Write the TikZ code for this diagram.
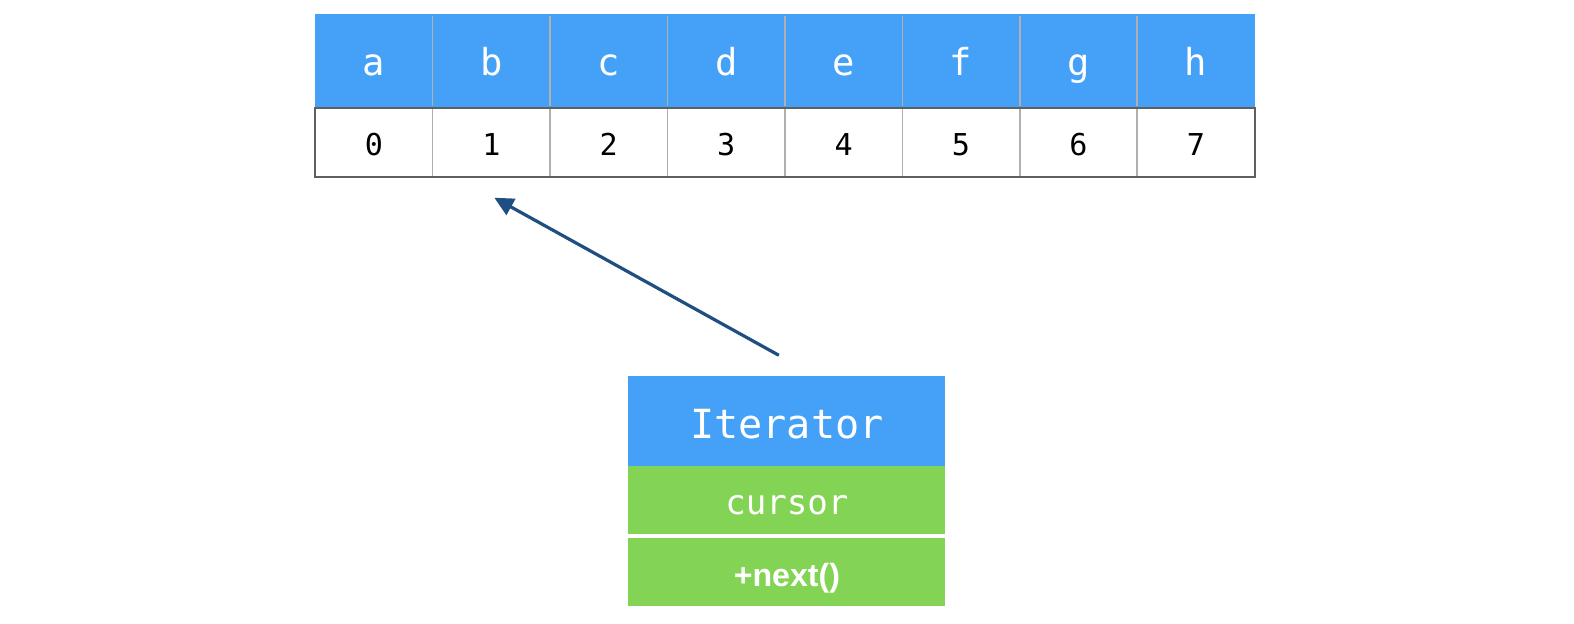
\documentclass[tikz,border=0pt]{standalone}
\usepackage{fontspec}
\setmonofont{DejaVu Sans Mono}
\newfontfamily\nextfont{Liberation Sans}
\usetikzlibrary{arrows.meta, positioning}
\definecolor{cellblue}{HTML}{45A1F8}
\definecolor{fieldgreen}{HTML}{83D454}
\definecolor{arrowblue}{HTML}{1F4E80}
\definecolor{sepgray}{HTML}{B0B0B0}
\definecolor{bordergray}{HTML}{5F5F5F}

\begin{document}
\begin{tikzpicture}[x=1bp,y=-1bp,inner sep=0pt,outer sep=0pt]
  \tikzstyle{headcell}=[fill=cellblue,text=white,minimum width=117bp,minimum height=94bp,
    text height=28bp,text depth=0pt,font=\ttfamily\fontsize{37bp}{40bp}\selectfont]
  \tikzstyle{idxcell}=[fill=white,draw=sepgray,line width=1.5bp,minimum width=117bp,minimum height=68bp,
    text height=26bp,text depth=0pt,font=\ttfamily\fontsize{30bp}{34bp}\selectfont]
  \tikzstyle{classbox}=[minimum width=316bp,text=white,text depth=0pt]

  \useasboundingbox (0,0) rectangle (1568.2,621.7);

  % the array
  \foreach \letter [count=\i from 0] in {a,b,c,d,e,f,g,h} {
    \node[headcell] (h\i) at ({372.5+117*\i}, 61) {\letter};
    \node[idxcell]  (i\i) at ({372.5+117*\i}, 142) {\i};
  }
  \foreach \i in {1,...,7}
    \draw[sepgray,line width=1.5bp] ([yshift=-2bp]h\i.north west) -- ([yshift=2bp]h\i.south west);
  \draw[bordergray,line width=2bp] (i0.north west) rectangle (i7.south east);

  % the iterator
  \node[classbox,fill=cellblue,minimum height=89bp,text height=34bp,
    font=\ttfamily\fontsize{40bp}{44bp}\selectfont] (iter) at (784,419.5) {Iterator};
  \node[classbox,fill=fieldgreen,minimum height=68bp,text height=29bp,
    font=\ttfamily\fontsize{34bp}{38bp}\selectfont] (cursor) [below=0pt of iter] {cursor};
  \node[classbox,fill=fieldgreen,minimum height=68bp,text height=29bp,
    font=\nextfont\bfseries\fontsize{32bp}{36bp}\selectfont] (next) [below=4bp of cursor] {+next()};

  \coordinate (tail) at ([xshift=-8bp,yshift=21bp]iter.north);
  \coordinate (head) at ([xshift=3bp,yshift=-21bp]i1.south);
  \draw[arrowblue,line width=3.2bp,-{Triangle[length=19bp,width=18bp]}] (tail) -- (head);
\end{tikzpicture}
\end{document}
